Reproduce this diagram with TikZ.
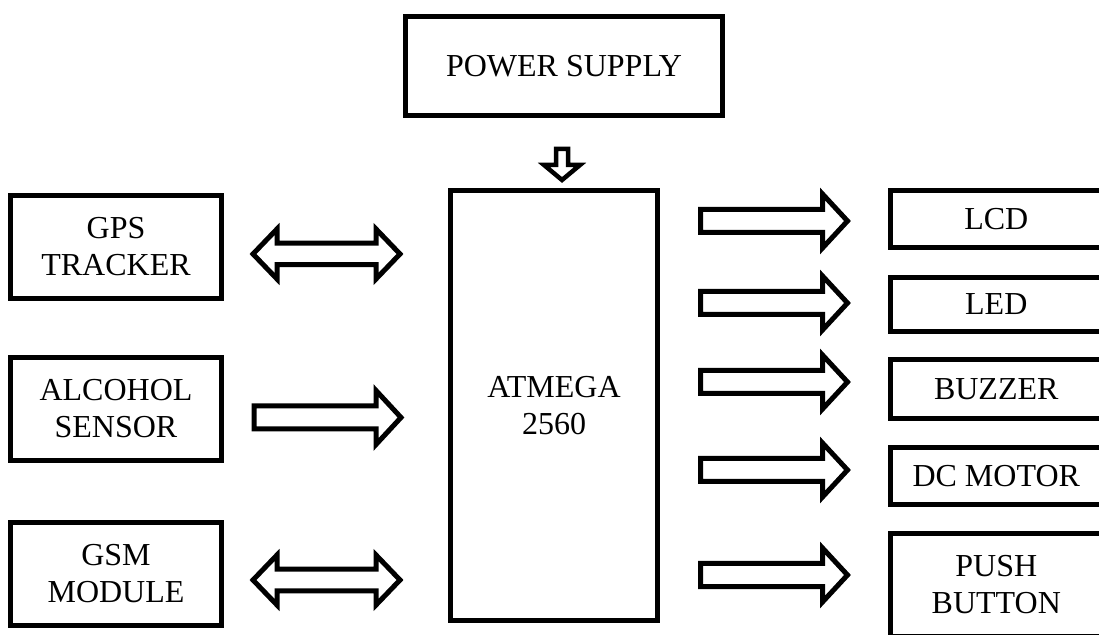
\documentclass[tikz,border=0pt]{standalone}
\usepackage{fontspec}
\setmainfont{Liberation Serif}
\usetikzlibrary{positioning, calc}

\begin{document}
\begin{tikzpicture}[
    x=1pt, y=1pt,
    box/.style={rectangle, draw, line width=5pt, inner sep=0pt, align=center, font=\fontsize{32}{37}\selectfont},
    sidebox/.style={box, minimum width=211pt, minimum height=103pt},
    outbox/.style={box, minimum width=211.5pt},
    blk/.style={draw, line width=5pt, fill=white},
    rarrow/.pic={\draw[blk] (0,-11.5) -- (122,-11.5) -- (122,-27) -- (147,0) -- (122,27) -- (122,11.5) -- (0,11.5) -- cycle;},
    dblarrow/.pic={\draw[blk] (0,0) -- (24,25) -- (24,10.75) -- (123,10.75) -- (123,25) -- (147,0) -- (123,-25) -- (123,-10.75) -- (24,-10.75) -- (24,-25) -- cycle;},
    downarrow/.pic={\draw[blk, line width=4.5pt] (-6,0) -- (6,0) -- (6,-16) -- (18,-16) -- (0,-31) -- (-18,-16) -- (-6,-16) -- cycle;},
]
    \useasboundingbox (0,0) rectangle (1099,634);

    % Centre: controller and supply
    \node[box, minimum width=317pt, minimum height=99pt] (power) at (564,568) {POWER SUPPLY};
    \node[box, minimum width=207pt, minimum height=430pt, text depth=-6pt] (atmega) at (554,228.5) {ATMEGA\\2560};

    % Left: inputs
    \node[sidebox] (gps) at (116,387) {GPS\\TRACKER};
    \node[sidebox, below=54pt of gps] (alcohol) {ALCOHOL\\SENSOR};
    \node[sidebox, below=57pt of alcohol] (gsm) {GSM\\MODULE};

    % Right: outputs
    \node[outbox, minimum height=57pt] (lcd) at (996.25,415) {LCD};
    \node[outbox, minimum height=54pt, below=25pt of lcd] (led) {LED};
    \node[outbox, minimum height=59pt, below=23pt of led] (buzzer) {BUZZER};
    \node[outbox, minimum height=57pt, below=24pt of buzzer] (motor) {DC MOTOR};
    \node[outbox, minimum height=103pt, below=24pt of motor] (button) {PUSH\\BUTTON};

    % Block arrows
    \pic at ($(power.south)+(-2,-31)$) {downarrow};
    \pic at ($(gps.east)+(29,-7)$) {dblarrow};
    \pic at ($(alcohol.east)+(30,-8.5)$) {rarrow};
    \pic at ($(gsm.east)+(29,-6)$) {dblarrow};

    \pic at ($(atmega.east |- lcd)+(40.5,-2)$) {rarrow};
    \pic at ($(atmega.east |- led)+(40.5,1.5)$) {rarrow};
    \pic at ($(atmega.east |- buzzer)+(40.5,7)$) {rarrow};
    \pic at ($(atmega.east |- motor)+(40.5,6)$) {rarrow};
    \pic at ($(atmega.east |- button)+(40.5,10)$) {rarrow};

\end{tikzpicture}
\end{document}
